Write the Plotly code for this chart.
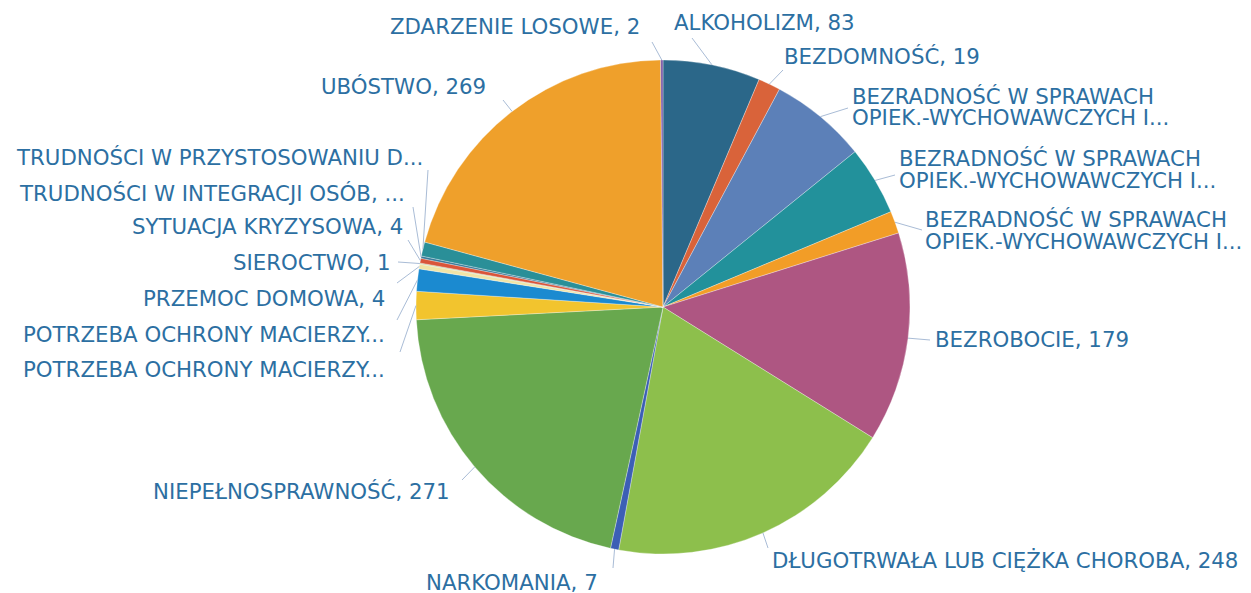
import math
import plotly.graph_objects as go

W, H = 1251, 593
PAGE_OFFSET = 8  # default body margin of the html page

categories = [
    "ALKOHOLIZM", "BEZDOMNOŚĆ",
    "BEZRADNOŚĆ W SPRAWACH OPIEK.-WYCHOWAWCZYCH I... (1)",
    "BEZRADNOŚĆ W SPRAWACH OPIEK.-WYCHOWAWCZYCH I... (2)",
    "BEZRADNOŚĆ W SPRAWACH OPIEK.-WYCHOWAWCZYCH I... (3)",
    "BEZROBOCIE", "DŁUGOTRWAŁA LUB CIĘŻKA CHOROBA", "NARKOMANIA",
    "NIEPEŁNOSPRAWNOŚĆ", "POTRZEBA OCHRONY MACIERZY... (1)",
    "POTRZEBA OCHRONY MACIERZY... (2)", "PRZEMOC DOMOWA", "SIEROCTWO",
    "SYTUACJA KRYZYSOWA", "TRUDNOŚCI W INTEGRACJI OSÓB",
    "TRUDNOŚCI W PRZYSTOSOWANIU D...", "UBÓSTWO", "ZDARZENIE LOSOWE",
]
values = [83, 19, 83, 59, 19, 179, 248, 7, 271, 24, 19, 4, 1, 4, 2, 12, 269, 2]
label_lines = [
    ["ALKOHOLIZM, 83"],
    ["BEZDOMNOŚĆ, 19"],
    ["BEZRADNOŚĆ W SPRAWACH", "OPIEK.-WYCHOWAWCZYCH I..."],
    ["BEZRADNOŚĆ W SPRAWACH", "OPIEK.-WYCHOWAWCZYCH I..."],
    ["BEZRADNOŚĆ W SPRAWACH", "OPIEK.-WYCHOWAWCZYCH I..."],
    ["BEZROBOCIE, 179"],
    ["DŁUGOTRWAŁA LUB CIĘŻKA CHOROBA, 248"],
    ["NARKOMANIA, 7"],
    ["NIEPEŁNOSPRAWNOŚĆ, 271"],
    ["POTRZEBA OCHRONY MACIERZY..."],
    ["POTRZEBA OCHRONY MACIERZY..."],
    ["PRZEMOC DOMOWA, 4"],
    ["SIEROCTWO, 1"],
    ["SYTUACJA KRYZYSOWA, 4"],
    ["TRUDNOŚCI W INTEGRACJI OSÓB, ..."],
    ["TRUDNOŚCI W PRZYSTOSOWANIU D..."],
    ["UBÓSTWO, 269"],
    ["ZDARZENIE LOSOWE, 2"],
]
colors = [
    "#2B6789", "#D9633A", "#5C80B8", "#22919B", "#F29D27", "#AE5682",
    "#8DBF4C", "#3C5FB5", "#68A84E", "#F2C42E", "#1B8AD0", "#F1E4A6",
    "#B9D3A2", "#D9553A", "#3A7A9A", "#2A8F98", "#EFA02B", "#7A5BA8",
]

# layout: pie centre/radius (screen px) and label placement (screen px)
CX, CY, R = 663, 307, 247
label_pos = [
    (672, 22, "left"), (782, 57, "left"), (850, 107, "left"), (897, 169, "left"),
    (923, 231, "left"), (933, 340, "left"), (770, 560, "left"), (600, 582, "right"),
    (452, 491, "right"), (387, 370, "right"), (387, 334, "right"), (387, 298, "right"),
    (393, 262, "right"), (405, 227, "right"), (407, 193, "right"), (425, 157, "right"),
    (488, 86, "right"), (642, 26, "right"),
]
leader_end = [
    (692, 38), (783, 70), (848, 108), (895, 175), (922, 230), (930, 340),
    (768, 548), (613, 568), (462, 480), (400, 352), (397, 320), (397, 283),
    (398, 262), (408, 240), (413, 207), (428, 170), (503, 100), (652, 42),
]
LINE_GAP = 22
TEXT_COLOR = "#2C6FA2"
LEADER_COLOR = "#A9BCD6"
FONT = dict(family="DejaVu Sans", size=21.3, color=TEXT_COLOR)

def px(x):
    return (x - PAGE_OFFSET) / W

def py(y):
    return 1 - (y - PAGE_OFFSET) / H

fig = go.Figure(go.Pie(
    labels=categories, values=values, sort=False, direction="clockwise",
    rotation=0, textinfo="none", hoverinfo="label+value",
    marker=dict(colors=colors, line=dict(color="rgba(255,255,255,0.6)", width=0.5)),
    domain=dict(x=[px(CX - R), px(CX + R)], y=[py(CY + R), py(CY - R)]),
    showlegend=False,
))

total = sum(values)
shapes, annotations = [], []
cum = 0
for i, v in enumerate(values):
    mid = 2 * math.pi * (cum + v / 2) / total
    cum += v
    sx = CX + R * math.sin(mid)
    sy = CY - R * math.cos(mid)
    ex, ey = leader_end[i]
    shapes.append(dict(type="line", xref="paper", yref="paper",
                       x0=px(sx), y0=py(sy), x1=px(ex), y1=py(ey),
                       line=dict(color=LEADER_COLOR, width=1)))
    lx, ly, anchor = label_pos[i]
    lines = label_lines[i]
    n = len(lines)
    for k, t in enumerate(lines):
        yy = ly + (k - (n - 1) / 2) * LINE_GAP
        annotations.append(dict(
            x=px(lx), y=py(yy), xref="paper", yref="paper", text=t,
            showarrow=False, xanchor=anchor, yanchor="middle", font=FONT,
        ))

fig.update_layout(
    width=W, height=H, margin=dict(l=0, r=0, t=0, b=0),
    paper_bgcolor="white", plot_bgcolor="white",
    shapes=shapes, annotations=annotations,
)
fig.write_html("out.html")
